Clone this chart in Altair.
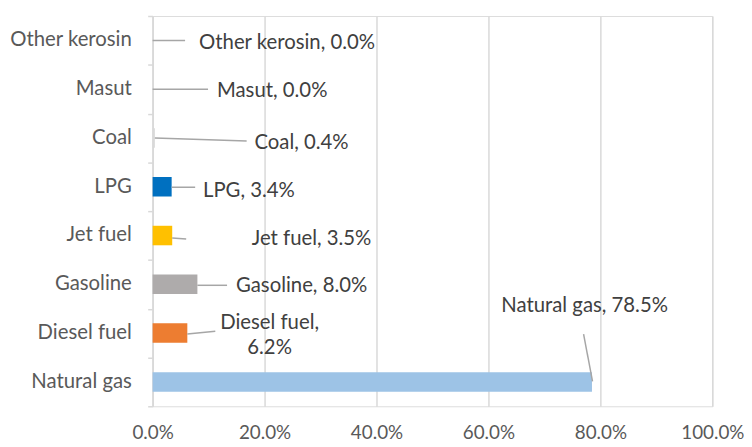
import altair as alt
import pandas as pd

# ---- data (bottom to top order) ----
categories = ["Natural gas", "Diesel fuel", "Gasoline", "Jet fuel", "LPG", "Coal", "Masut", "Other kerosin"]
values = [78.5, 6.2, 8.0, 3.5, 3.4, 0.4, 0.0, 0.0]
colors = ["#9DC3E6", "#ED7D31", "#AEABAB", "#FFC000", "#0070C0", "#D9D9D9", "#D9D9D9", "#D9D9D9"]
x_ticks = [0, 20, 40, 60, 80, 100]

# ---- label layout (data units; x in %, y in category-row units) ----
label_x = [62.3, 20.9, 14.9, 17.7, 9.0, 18.2, 11.5, 8.3]
label_y = [2.05, 1.70, 2.46, 3.42, 4.42, 5.40, 6.46, 7.44]
lead_x1 = [77.0, 6.2, 8.0, 3.5, 3.4, 0.4, 0.0, 0.0]
lead_y1 = [1.48, 1.48, 2.48, 3.45, 4.49, 5.50, 6.50, 7.50]
lead_x2 = [78.6, 11.2, 13.3, 6.0, 7.6, 16.8, 9.9, 5.8]
lead_y2 = [0.51, 1.54, 2.48, 3.43, 4.49, 5.44, 6.50, 7.50]

FONT = "Lato"
FS = 20.5
AXFS = 19

texts = []
for c, v in zip(categories, values):
    if c == "Diesel fuel":
        texts.append(f"{c},\n{v:.1f}%")
    else:
        texts.append(f"{c}, {v:.1f}%")

df = pd.DataFrame({
    "category": categories,
    "value": values,
    "color": colors,
    "idx": list(range(len(categories))),
    "label": texts,
    "lx": label_x,
    "ly": label_y,
    "x1": lead_x1,
    "y1": lead_y1,
    "x2": lead_x2,
    "y2": lead_y2,
})

y_scale = alt.Scale(domain=[0, len(categories)], nice=False, zero=False)
x_scale = alt.Scale(domain=[0, 100], nice=False)

y_axis = alt.Axis(
    values=list(range(len(categories) + 1)),
    labels=False,
    tickSize=5,
    tickColor="#D9D9D9",
    tickWidth=1.5,
    domainColor="#D9D9D9",
    domainWidth=1.5,
    grid=False,
    title=None,
)

x_axis = alt.Axis(
    values=x_ticks,
    labelExpr="format(datum.value / 100, '.1%')",
    labelOverlap=False,
    labelFlush=False,
    grid=True,
    gridColor="#D9D9D9",
    gridWidth=1.5,
    domain=False,
    ticks=False,
    labelPadding=18,
    labelFont=FONT,
    labelFontSize=AXFS,
    labelColor="#595959",
    title=None,
)

base = alt.Chart(df)

bars = base.mark_bar().transform_calculate(
    yb="datum.idx + 0.3", yt="datum.idx + 0.7"
).encode(
    x=alt.X("value:Q", scale=x_scale, axis=x_axis),
    x2=alt.X2(datum=0),
    y=alt.Y("yb:Q", scale=y_scale, axis=y_axis),
    y2="yt:Q",
    color=alt.Color("color:N", scale=None),
)

cat_labels = base.transform_calculate(yc="datum.idx + 0.5").mark_text(
    align="right", baseline="middle", font=FONT, fontSize=FS, color="#595959"
).encode(x=alt.value(-21), y="yc:Q", text="category:N")

leaders = base.mark_rule(color="#A6A6A6", strokeWidth=1.5).encode(
    x="x1:Q", x2="x2:Q", y="y1:Q", y2="y2:Q"
)

labels_left = base.transform_filter("datum.category != 'Diesel fuel'").mark_text(
    align="left", baseline="middle", font=FONT, fontSize=FS, color="#404040"
).encode(x="lx:Q", y="ly:Q", text="label:N")

labels_center = base.transform_filter("datum.category == 'Diesel fuel'").mark_text(
    align="center", baseline="middle", font=FONT, fontSize=FS, color="#404040",
    lineBreak="\n", lineHeight=25
).encode(x="lx:Q", y="ly:Q", text="label:N")

chart = alt.layer(bars, cat_labels, leaders, labels_left, labels_center).properties(
    width=565,
    height=394,
    autosize=alt.AutoSizeParams(type="none"),
    padding={"left": 146, "top": 6, "right": 32, "bottom": 36},
).configure_view(stroke=None).configure(background="white")

chart.save("out.html", embed_options={"renderer": "svg", "actions": False})
